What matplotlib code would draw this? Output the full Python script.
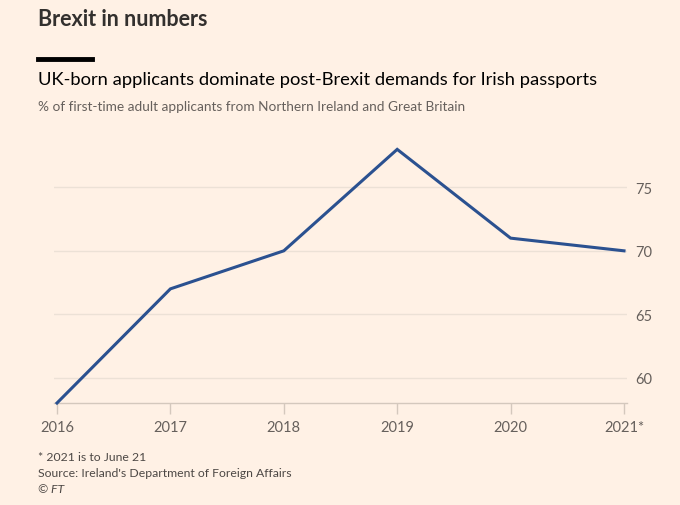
import matplotlib
matplotlib.use("Agg")
import matplotlib.pyplot as plt
from matplotlib.lines import Line2D

years = [2016, 2017, 2018, 2019, 2020, 2021]
year_labels = ["2016", "2017", "2018", "2019", "2020", "2021*"]
share = [58, 67, 70, 78, 71, 70]
y_ticks = [60, 65, 70, 75]

BG = "#fff1e5"
LINE = "#2b5190"
GRID = "#ece1d6"
AXIS = "#d4c8bd"
TICKTXT = "#66605c"

plt.rcParams['font.family'] = ['Lato', 'DejaVu Sans']

W, H = 680, 506
fig = plt.figure(figsize=(W / 100, H / 100), dpi=100, facecolor=BG)

px_per_year = (624 - 57) / 5
left_px, right_px = 54, 627
bottom_px, top_px = 404, 125
ax = fig.add_axes([left_px / W, 1 - bottom_px / H, (right_px - left_px) / W, (bottom_px - top_px) / H])
ax.set_facecolor(BG)
ax.set_xlim(2016 - (57 - left_px) / px_per_year, 2021 + (right_px - 624) / px_per_year)
ax.set_ylim(58, 80)

ax.plot(years, share, color=LINE, lw=2.2, solid_joinstyle='miter', zorder=3, clip_on=False)

ax.set_yticks(y_ticks)
ax.yaxis.tick_right()
ax.tick_params(axis='y', length=0, pad=6, labelsize=10.5, labelcolor=TICKTXT)
ax.grid(axis='y', color=GRID, lw=1)
ax.set_xticks(years)
ax.set_xticklabels(year_labels)
ax.tick_params(axis='x', length=8, width=1, color=AXIS, pad=4, labelsize=10.5, labelcolor=TICKTXT)
for s in ['top', 'left', 'right']:
    ax.spines[s].set_visible(False)
ax.spines['bottom'].set_color(AXIS)
ax.spines['bottom'].set_linewidth(1)

fig.text(38 / W, 1 - 20 / H, "Brexit in numbers", fontsize=15.5, fontweight='bold',
         color="#33302e", va='center', ha='left')
fig.add_artist(Line2D([38 / W, 92 / W], [1 - 60 / H, 1 - 60 / H], color="#000000", lw=3.5))
fig.text(38 / W, 1 - 80 / H, "UK-born applicants dominate post-Brexit demands for Irish passports",
         fontsize=13.2, color="#000000", va='center', ha='left')
fig.text(38 / W, 1 - 107 / H, "% of first-time adult applicants from Northern Ireland and Great Britain",
         fontsize=9.8, color="#66605c", va='center', ha='left')

fig.text(38 / W, 1 - 458 / H, "* 2021 is to June 21", fontsize=8.8, color="#4d4845", va='center', ha='left')
fig.text(38 / W, 1 - 474 / H, "Source: Ireland's Department of Foreign Affairs", fontsize=8.8,
         color="#4d4845", va='center', ha='left')
fig.text(38 / W, 1 - 490 / H, "© FT", fontsize=8.8, color="#4d4845", va='center', ha='left', style='italic')

fig.savefig("out.png", dpi=100, facecolor=BG)
